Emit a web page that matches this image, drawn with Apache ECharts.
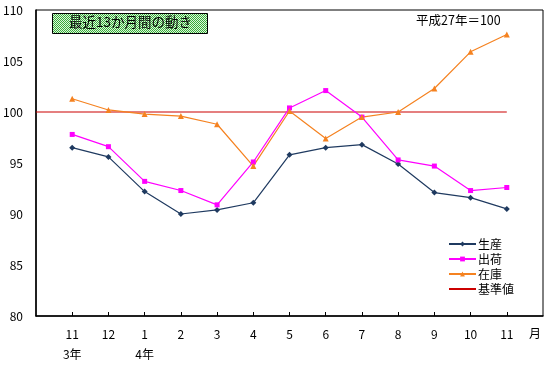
<!DOCTYPE html>
<html><head><meta charset="utf-8">
<script src="https://cdn.jsdelivr.net/npm/echarts@6/dist/echarts.min.js"></script>
<style>html,body{margin:0;padding:0;background:#fff}#c{width:557px;height:366px}</style>
</head><body><div id="c"></div>
<script>
const months = ['11','12','1','2','3','4','5','6','7','8','9','10','11'];
const yearLabels = ['3年','','4年','','','','','','','','','',''];
const production = [96.5, 95.6, 92.2, 90.0, 90.4, 91.1, 95.8, 96.5, 96.8, 94.9, 92.1, 91.6, 90.5];
const shipment   = [97.8, 96.6, 93.2, 92.3, 90.9, 95.1, 100.4, 102.1, 99.5, 95.3, 94.7, 92.3, 92.6];
const inventory  = [101.3, 100.2, 99.8, 99.6, 98.8, 94.7, 100.1, 97.4, 99.5, 100.0, 102.3, 105.9, 107.6];
const baseline   = [100,100,100,100,100,100,100,100,100,100,100,100,100];
const yTicks = [80, 85, 90, 95, 100, 105, 110];

const cats = [''].concat(months.map((m,i)=>i+'|'+m)).concat(['end']);
const pad = arr => [null].concat(arr).concat([null]);

const pc = document.createElement('canvas');
pc.width = 2; pc.height = 2;
const g = pc.getContext('2d');
g.fillStyle = '#ddf5dd'; g.fillRect(0,0,2,2);
g.fillStyle = '#3aad3a'; g.fillRect(0,0,1,1); g.fillRect(1,1,1,1);

const font = '"Noto Sans CJK JP", sans-serif';
const chart = echarts.init(document.getElementById('c'), null, {renderer:'canvas'});
chart.setOption({
  animation: false,
  grid: {left: 36, right: 14, top: 10, bottom: 50, show: true, borderColor: '#000', borderWidth: 1},
  xAxis: {
    type: 'category', data: cats, boundaryGap: false,
    axisLine: {lineStyle: {color: '#000', width: 1.5}},
    axisTick: {inside: true, length: 4, lineStyle: {color: '#000'},
      interval: (i) => i > 0 && i < cats.length - 1},
    axisLabel: {
      interval: 0, margin: 8, color: '#000', fontSize: 12, fontFamily: font, lineHeight: 20,
      formatter: (v) => {
        if (!v.includes('|')) return '';
        const [i, m] = v.split('|');
        const y = yearLabels[+i];
        return m + '\n' + (y || ' ');
      }
    },
    splitLine: {show: false}
  },
  yAxis: {
    type: 'value', min: yTicks[0], max: yTicks[yTicks.length-1], interval: 5,
    axisLine: {show: true, lineStyle: {color: '#000', width: 1.5}},
    axisTick: {show: false},
    axisLabel: {color: '#000', fontSize: 12, fontFamily: font, margin: 13},
    splitLine: {show: false}
  },
  legend: {
    orient: 'vertical', left: 443, top: 233, itemWidth: 27, itemHeight: 6, itemGap: 3,
    textStyle: {fontSize: 12, fontFamily: font, color: '#000', padding: [0,0,0,-3]},
    data: ['生産','出荷','在庫',{name:'基準値', itemStyle:{opacity:0}}]
  },
  series: [
    {name: '基準値', type: 'line', data: [100].concat(baseline).concat([null]), symbol: 'none', z: 1,
      lineStyle: {color: '#cc0000', width: 1.2}, itemStyle: {color: '#cc0000'}},
    {name: '生産', type: 'line', data: pad(production), symbol: 'diamond', symbolSize: 6,
      lineStyle: {color: '#1f3a60', width: 1.2}, itemStyle: {color: '#1f3a60'}},
    {name: '出荷', type: 'line', data: pad(shipment), symbol: 'rect', symbolSize: 5,
      lineStyle: {color: '#ff00ff', width: 1.2}, itemStyle: {color: '#ff00ff'}},
    {name: '在庫', type: 'line', data: pad(inventory), symbol: 'triangle', symbolSize: 6,
      lineStyle: {color: '#f58220', width: 1.2}, itemStyle: {color: '#f58220'}}
  ],
  graphic: [
    {type: 'rect', shape: {x: 52.5, y: 13.5, width: 155, height: 20},
      style: {fill: {image: pc, repeat: 'repeat'}, stroke: '#000', lineWidth: 1}},
    {type: 'text', left: 69, top: 15, style: {text: '最近13か月間の動き', font: '13.5px ' + font, fill: '#000'}},
    {type: 'text', left: 416, top: 14, style: {text: '平成27年＝100', font: '12.5px ' + font, fill: '#000'}},
    {type: 'text', left: 529, top: 327, style: {text: '月', font: '12px ' + font, fill: '#000'}}
  ]
});
</script></body></html>
